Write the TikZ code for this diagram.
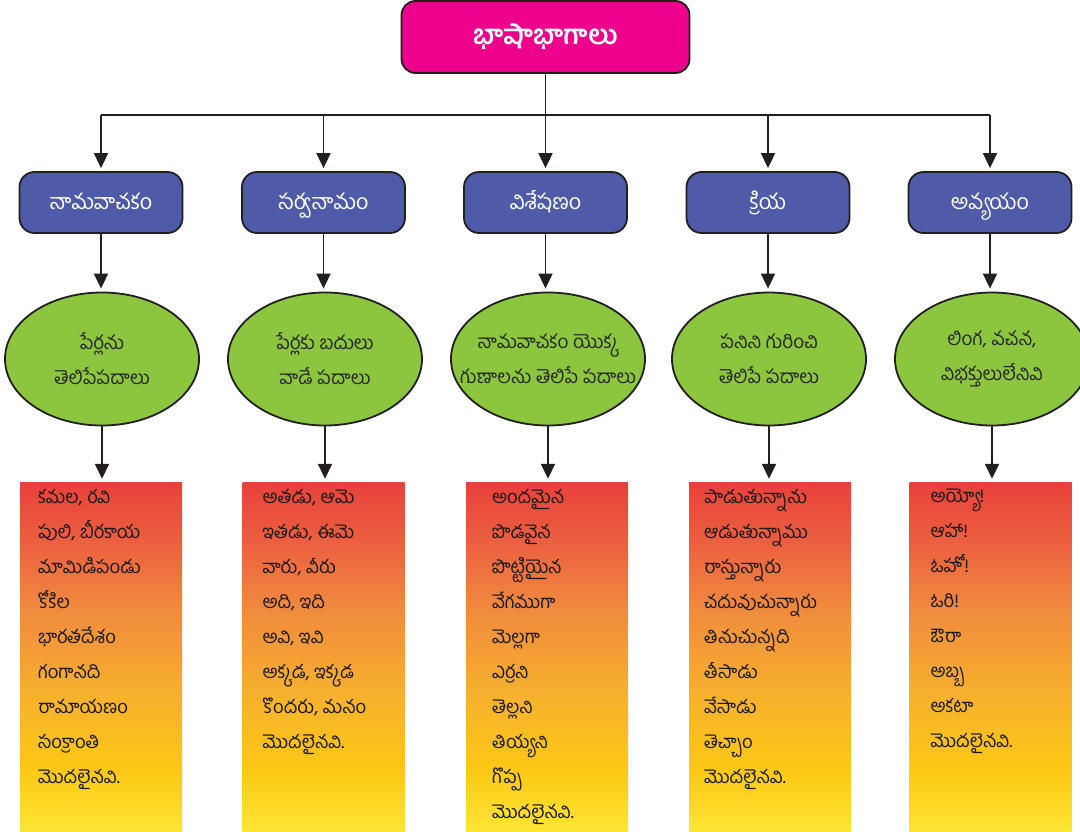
\documentclass[tikz,border=0pt]{standalone}
\usepackage{fontspec}
\newfontfamily\tel[Script=Telugu]{Hind Guntur}
\usetikzlibrary{arrows.meta,shapes.geometric}
\definecolor{pinkc}{HTML}{EC008C}
\definecolor{bluec}{HTML}{4F5BA8}
\definecolor{greenc}{HTML}{8CC63F}
\definecolor{edgec}{HTML}{231F20}
\definecolor{rd}{HTML}{E8413A}
\definecolor{ro}{HTML}{EC6140}
\definecolor{or}{HTML}{F08A3E}
\definecolor{yo}{HTML}{F7B02E}
\definecolor{yl}{HTML}{FCC815}
\definecolor{ly}{HTML}{FDE633}
\pgfdeclareverticalshading{listshade}{100bp}{color(0bp)=(ly); color(25bp)=(ly); color(34bp)=(yl); color(45bp)=(yo); color(57bp)=(or); color(66bp)=(ro); color(75bp)=(rd); color(100bp)=(rd)}
\begin{document}
\begin{tikzpicture}[x=1pt,y=-1pt,
  topbox/.style={draw=edgec, line width=1.8pt, fill=pinkc, rounded corners=14pt, minimum width=288pt, minimum height=72pt, text=white, font=\tel\bfseries\fontsize{27}{32}\selectfont},
  catbox/.style={draw=edgec, line width=1.8pt, fill=bluec, rounded corners=15pt, minimum width=163pt, minimum height=61pt, text height=15pt, text depth=1pt, text=white, font=\tel\fontsize{21.5}{26}\selectfont},
  ell/.style={draw=edgec, line width=1.8pt, fill=greenc, ellipse, minimum width=194pt, minimum height=133pt, inner sep=0pt},
  elltext/.style={align=center, inner sep=0pt, text=black!85, font=\tel\fontsize{19}{35}\selectfont},
  listbox/.style={shading=listshade, minimum width=162pt, minimum height=350pt, inner sep=0pt},
  listtext/.style={anchor=north west, align=left, inner sep=0pt, text=black!90, font=\tel\fontsize{18.5}{35}\selectfont},
  conn/.style={draw=edgec, line width=1.8pt},
  arr/.style={conn, -{Triangle[length=15pt,width=14pt]}, shorten >=3pt}
]
\useasboundingbox (0,0) rectangle (1080,832);
\node[topbox] (top) at (545.5,37) {భాషాభాగాలు};
\node[catbox] (c1) at (101,202.5) {నామవాచకం};
\node[catbox] (c2) at (323.5,202.5) {సర్వనామం};
\node[catbox] (c3) at (545.5,202.5) {విశేషణం};
\node[catbox] (c4) at (768,202.5) {క్రియ};
\node[catbox] (c5) at (990,202.5) {అవ్యయం};
\node[ell] (e1) at (102,359) {};
\node[ell] (e2) at (325,359) {};
\node[ell] (e3) at (548,359) {};
\node[ell] (e4) at (769,359) {};
\node[ell] (e5) at (992,359) {};
\node[elltext] (et1) at (e1) {పేర్లను\\తెలిపేపదాలు};
\node[elltext] (et2) at (e2) {పేర్లకు బదులు\\వాడే పదాలు};
\node[elltext] (et3) at (e3) {నామవాచకం యొక్క\\గుణాలను తెలిపే పదాలు};
\node[elltext] (et4) at (e4) {పనిని గురించి\\తెలిపే పదాలు};
\node[elltext] (et5) at (e5) {లింగ, వచన,\\విభక్తులులేనివి};
\node[listbox] (l1) at (101,657) {};
\node[listbox] (l2) at (323.5,657) {};
\node[listbox] (l3) at (547,657) {};
\node[listbox] (l4) at (770,657) {};
\node[listbox] (l5) at (990.5,657) {};
\node[listtext] (t1) at ([shift={(18,7)}]l1.north west) {కమల, రవి\\పులి, బీరకాయ\\మామిడిపండు\\కోకిల\\భారతదేశం\\గంగానది\\రామాయణం\\సంక్రాంతి\\మొదలైనవి.};
\node[listtext] (t2) at ([shift={(20,7)}]l2.north west) {అతడు, ఆమె\\ఇతడు, ఈమె\\వారు, వీరు\\అది, ఇది\\అవి, ఇవి\\అక్కడ, ఇక్కడ\\కొందరు, మనం\\మొదలైనవి.};
\node[listtext] (t3) at ([shift={(26,7)}]l3.north west) {అందమైన\\పొడవైన\\పొట్టియైన\\వేగముగా\\మెల్లగా\\ఎర్రని\\తెల్లని\\తియ్యని\\గొప్ప\\మొదలైనవి.};
\node[listtext] (t4) at ([shift={(15,7)}]l4.north west) {పాడుతున్నాను\\ఆడుతున్నాము\\రాస్తున్నారు\\చదువుచున్నారు\\తినుచున్నది\\తీసాడు\\వేసాడు\\తెచ్చాం\\మొదలైనవి.};
\node[listtext] (t5) at ([shift={(21,7)}]l5.north west) {అయ్యో!\\ఆహా!\\ఓహో!\\ఓరి!\\ఔరా\\అబ్బ\\అకటా\\మొదలైనవి.};
\draw[conn] (top.south) -- ++(0,41) coordinate (bar);
\draw[conn] (bar -| c1) -- (bar -| c5);
\foreach \i in {1,...,5}{
  \draw[arr] (bar -| c\i) -- (c\i.north);
  \draw[arr] (c\i.south) -- (c\i.south |- e\i.north);
  \draw[arr] (e\i.south) -- (e\i.south |- l\i.north);
}
\end{tikzpicture}
\end{document}
